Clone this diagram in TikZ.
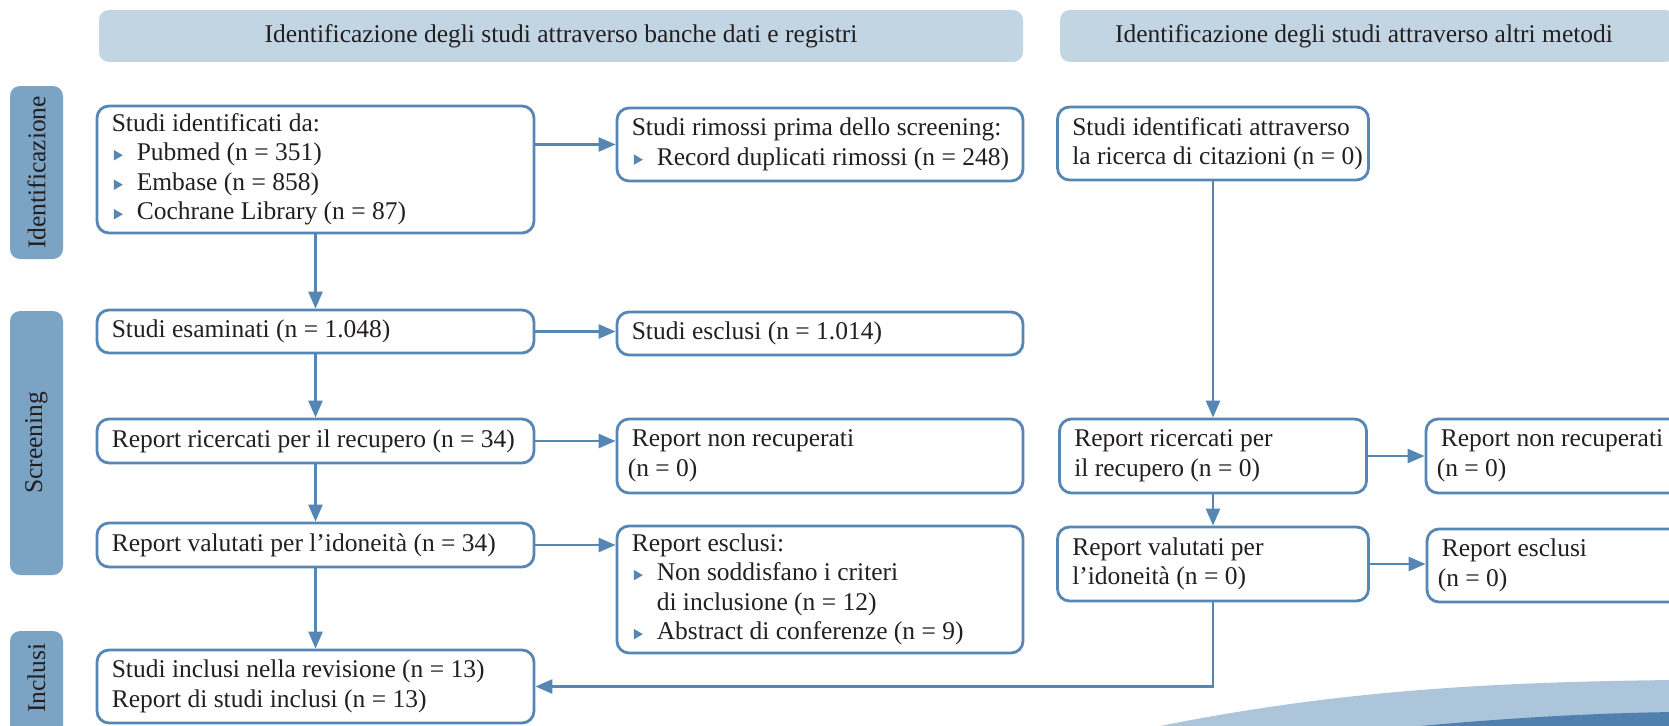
\documentclass[tikz,border=0pt]{standalone}
\usepackage{fontspec}
\setmainfont{Liberation Serif}
\usetikzlibrary{arrows.meta}
\definecolor{bcol}{HTML}{5686B4}
\definecolor{tabcol}{HTML}{7BA3C4}
\definecolor{hdrcol}{HTML}{C2D5E3}
\definecolor{txtcol}{HTML}{231F20}
\definecolor{wavel}{HTML}{ADC5DB}
\definecolor{waved}{HTML}{4F80AE}
\newcommand\bul{\hspace*{2pt}\tikz[baseline=0pt,sharp corners]\fill[bcol](0pt,0.5pt)--(0pt,11pt)--(9pt,5.75pt)--cycle;\hspace{14pt}}
\newcommand\pbx[6]{%
  \node[box, minimum width=#4pt, minimum height=#5pt] (#1) at (#2,#3) {};
  \node[boxtxt, anchor=west] (#1t) at ([xshift=16pt]#1.west) {#6};}
\begin{document}
\begin{tikzpicture}[x=1pt,y=-1pt, font=\fontsize{25.5}{29.5}\selectfont,
  box/.style={draw=bcol, line width=2.8pt, rounded corners=12pt, fill=white, inner sep=0pt},
  boxtxt/.style={align=left, inner sep=0pt, text=txtcol},
  hdr/.style={fill=hdrcol, rounded corners=10pt, inner sep=0pt, text=txtcol},
  tab/.style={fill=tabcol, rounded corners=10pt, inner sep=0pt, text=txtcol},
  arr/.style={draw=bcol, line width=2.6pt, -{Triangle[length=17pt,width=14pt]}}]
\useasboundingbox (0,0) rectangle (1669,725);
\clip (0,0) rectangle (1669,725);

% decoration
\fill[wavel] (1160,726) .. controls (1330,692) and (1480,682) .. (1675,680) -- (1675,726) -- cycle;
\fill[waved] (1420,726) .. controls (1520,717) and (1600,713) .. (1675,712) -- (1675,726) -- cycle;

% headers
\node[hdr, minimum width=924pt, minimum height=52pt] (h1) at (561,36) {Identificazione degli studi attraverso banche dati e registri};
\node[hdr, minimum width=615pt, minimum height=52pt] (h2) at (1367.5,36) {};
\node[text=txtcol] (h2t) at (1364,36) {Identificazione degli studi attraverso altri metodi};

% side tabs
\node[tab, rotate=90, minimum width=173pt, minimum height=53pt] (t1) at (36.5,172.5) {Identificazione};
\node[tab, rotate=90, minimum width=264pt, minimum height=53pt] (t2) at (36.5,443) {Screening};
\node[tab, rotate=90, minimum width=120pt, minimum height=53pt] (t3) at (36.5,691) {};
\node[rotate=90, text=txtcol] (t3t) at (36.5,678) {Inclusi};

% left column
\pbx{b1}{315.5}{169.5}{437}{127}{Studi identificati da:\\ \bul Pubmed (n = 351)\\ \bul Embase (n = 858)\\ \bul Cochrane Library (n = 87)}
\pbx{b4}{315.5}{331.5}{437}{43}{Studi esaminati (n = 1.048)}
\pbx{b6}{315.5}{441}{437}{44}{Report ricercati per il recupero (n = 34)}
\pbx{b10}{315.5}{545}{437}{44}{Report valutati per l’idoneità (n = 34)}
\pbx{b14}{315.5}{686.5}{437}{73}{Studi inclusi nella revisione (n = 13)\\Report di studi inclusi (n = 13)}

% middle column
\pbx{b2}{820}{144.5}{406}{73}{Studi rimossi prima dello screening:\\ \bul Record duplicati rimossi (n = 248)}
\pbx{b5}{820}{333.5}{406}{43}{Studi esclusi (n = 1.014)}
\pbx{b7}{820}{456}{406}{74}{Report non recuperati\\ \hspace*{-4pt}(n = 0)}
\pbx{b11}{820}{589.5}{406}{127}{Report esclusi:\\ \bul Non soddisfano i criteri\\ \hspace*{25pt}di inclusione (n = 12)\\ \bul Abstract di conferenze (n = 9)}

% right column
\pbx{b3}{1213}{143.5}{311}{73}{Studi identificati attraverso\\la ricerca di citazioni (n = 0)}
\pbx{b8}{1213}{456}{307}{74}{Report ricercati per\\il recupero (n = 0)}
\pbx{b12}{1213}{564}{311}{74}{Report valutati per\\l’idoneità (n = 0)}
\pbx{b9}{1563}{456}{274}{74}{Report non recuperati\\ \hspace*{-4pt}(n = 0)}
\pbx{b13}{1563.5}{565.5}{273}{73}{Report esclusi\\ \hspace*{-4pt}(n = 0)}

% connectors
\draw[arr] (b1.south) -- (b4.north);
\draw[arr] (b4.south) -- (b6.north);
\draw[arr] (b6.south) -- (b10.north);
\draw[arr] (b10.south) -- (b14.north);
\draw[arr] (b1.east |- b2.west) -- (b2.west);
\draw[arr] (b4.east) -- (b4.east -| b5.west);
\draw[arr] (b6.east) -- (b6.east -| b7.west);
\draw[arr] (b10.east) -- (b10.east -| b11.west);
\draw[arr] (b3.south) -- (b8.north);
\draw[arr] (b8.south) -- (b12.north);
\draw[arr] (b8.east) -- (b8.east -| b9.west);
\draw[arr] (b12.east) -- (b12.east -| b13.west);
\draw[arr] (b12.south) |- (b14.east);
\end{tikzpicture}
\end{document}
